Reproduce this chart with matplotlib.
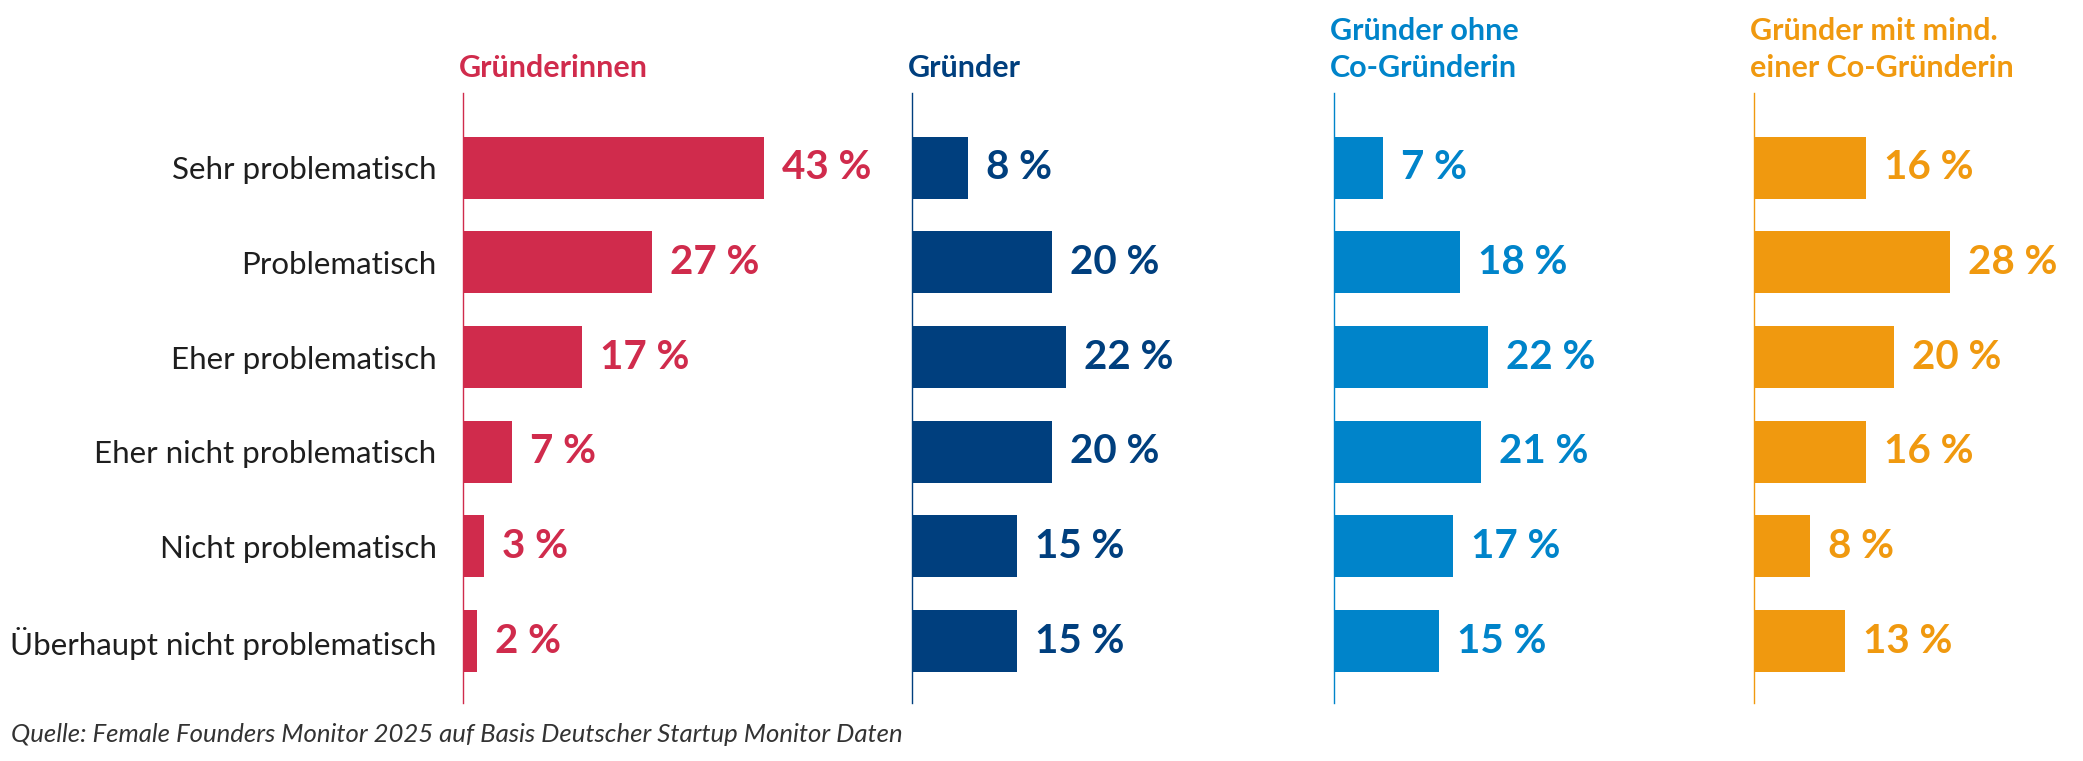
import matplotlib
matplotlib.use("Agg")
import matplotlib.pyplot as plt
from matplotlib.transforms import ScaledTranslation

categories = ["Sehr problematisch", "Problematisch", "Eher problematisch",
              "Eher nicht problematisch", "Nicht problematisch",
              "Überhaupt nicht problematisch"]
titles = ["Gründerinnen", "Gründer", "Gründer ohne\nCo-Gründerin",
          "Gründer mit mind.\neiner Co-Gründerin"]
gruenderinnen = [43, 27, 17, 7, 3, 2]
gruender = [8, 20, 22, 20, 15, 15]
gruender_ohne = [7, 18, 22, 21, 17, 15]
gruender_mit = [16, 28, 20, 16, 8, 13]
series = [gruenderinnen, gruender, gruender_ohne, gruender_mit]
colors = ["#D02B4C", "#003F7E", "#0084CA", "#F0990F"]
source = "Quelle: Female Founders Monitor 2025 auf Basis Deutscher Startup Monitor Daten"

W, H = 2083, 761
DPI = 100
fig = plt.figure(figsize=(W / DPI, H / DPI), dpi=DPI)
plt.rcParams['font.family'] = ['Lato', 'DejaVu Sans']

lefts_px = [463, 912, 1334, 1754]
top_px, bot_px = 93, 703
xmax = 45
px_per_unit = 7.0
width_px = xmax * px_per_unit

ypos = list(range(len(categories)))
for i, (vals, col, title, lpx) in enumerate(zip(series, colors, titles, lefts_px)):
    ax = fig.add_axes([lpx / W, 1 - bot_px / H, width_px / W, (bot_px - top_px) / H])
    bars = ax.barh(ypos, vals, height=0.655, color=col, edgecolor='none')
    ax.set_xlim(0, xmax)
    ax.set_ylim(5.655, -0.79)
    for s in ['top', 'right', 'bottom']:
        ax.spines[s].set_visible(False)
    ax.spines['left'].set_color(col)
    ax.spines['left'].set_linewidth(1.0)
    ax.set_xticks([])
    ax.set_yticks(ypos)
    if i == 0:
        ax.set_yticklabels(categories, fontsize=22.5, color='#1e1e1e')
        ax.tick_params(axis='y', length=0, pad=19)
    else:
        ax.set_yticklabels([])
        ax.tick_params(axis='y', length=0)
    ax.bar_label(bars, labels=[f"{v} %" for v in vals], padding=13,
                 fontsize=29, fontweight='bold', color=col)
    lines = title.split("\n")
    n = len(lines)
    for k, line in enumerate(lines):
        off_px = 16 + (n - 1 - k) * 37
        tr = ax.transAxes + ScaledTranslation(-4 / DPI, off_px / DPI, fig.dpi_scale_trans)
        ax.text(0, 1, line, transform=tr, ha='left', va='baseline',
                fontsize=22, fontweight='bold', color=col)

fig.text(11 / W, 1 - 742 / H, source, ha='left', va='baseline', fontsize=18.5,
         style='italic', color='#333333')

fig.savefig("out.png", dpi=DPI, facecolor='white')
